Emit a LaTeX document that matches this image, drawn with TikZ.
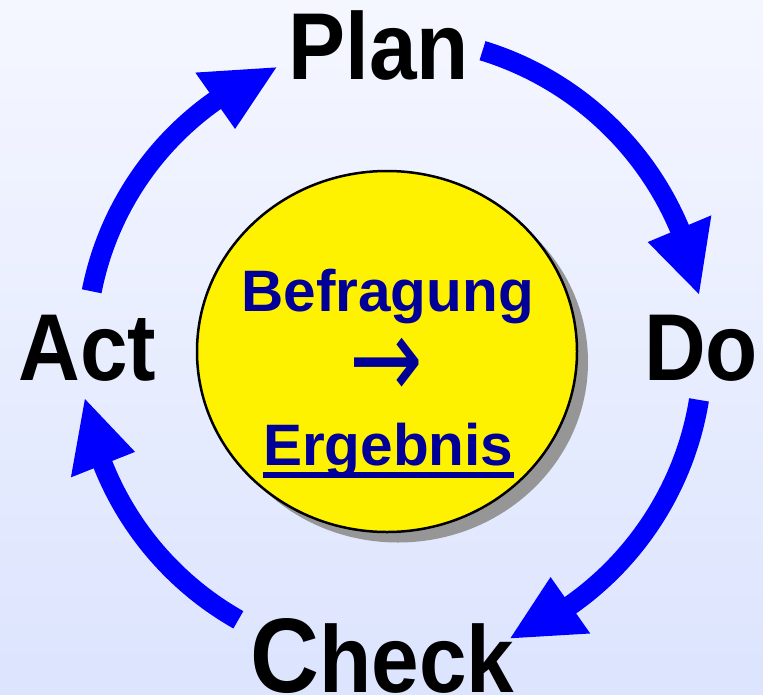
\documentclass[tikz,border=0pt]{standalone}
\usepackage{graphicx}
\usepackage{fontspec}
\setmainfont{Liberation Sans}
\newfontfamily\arrowfont{DejaVu Sans}
\usetikzlibrary{calc}
\definecolor{bgtop}{RGB}{245,247,255}
\definecolor{bgbot}{RGB}{220,228,254}
\definecolor{arrowblue}{RGB}{0,0,255}
\definecolor{navytext}{RGB}{0,0,153}
\definecolor{shadowgray}{RGB}{150,150,150}
\newcommand{\narrow}[1]{\scalebox{0.9}[1]{#1}}
\begin{document}
\begin{tikzpicture}[x=1pt,y=-1pt,
  lbl/.style={font=\fontsize{95}{95}\selectfont\bfseries, text=black, inner sep=0pt, anchor=base},
  ctr/.style={font=\fontsize{58.5}{58.5}\selectfont\bfseries, text=navytext, inner sep=0pt, anchor=base},
  shaft/.style={draw=arrowblue, line width=20pt},
  head/.style={fill=arrowblue}]
\shade[top color=bgtop, bottom color=bgbot] (0,0) rectangle (763,694);
\useasboundingbox (0,0) rectangle (763,694);
\coordinate (c) at (391,350);
% disk with shadow
\fill[shadowgray] (398,362) ellipse [x radius=190, y radius=180.5];
\filldraw[fill=yellow, draw=black, line width=2.5pt] (387,351.5) ellipse [x radius=190, y radius=180.5];
% centre text
\node[ctr] (befr) at (387.5,311.7) {Befragung};
\node[ctr, anchor=center, font=\fontsize{88}{88}\selectfont\arrowfont] (arr) at (386.7,368.5) {\scalebox{1}[1.3]{→}};
\node[ctr] (erg) at (388.3,465) {Ergebnis};
\draw[navytext, line width=6.5pt] ($(erg.base west)+(0,10)$) -- ($(erg.base east)+(0,10)$);
% labels
\node[lbl] (plan) at (378.5,79) {\narrow{Plan}};
\node[lbl] (do) at (701,380) {\narrow{Do}};
\node[lbl] (act) at (87.5,380) {\narrow{Act}};
\node[lbl] (check) at (382.5,692) {\narrow{{\fontsize{106}{106}\selectfont C}heck}};
% arrows
\draw[shaft] ($(c)+(-73:313)$) arc[start angle=-73, end angle=-20, radius=313];
\fill[head] ($(c)+(-22.8:278.5)$) -- ($(c)+(-22.8:347.5)$) -- ($(c)+(-10.3:313)$) -- cycle;
\draw[shaft] ($(c)+(9.2:312)$) arc[start angle=9.2, end angle=57.5, radius=312];
\fill[head] ($(c)+(54.9:277.5)$) -- ($(c)+(54.9:346.5)$) -- ($(c)+(67.5:312)$) -- cycle;
\draw[shaft] ($(c)+(119.5:310)$) arc[start angle=119.5, end angle=161, radius=310];
\fill[head] ($(c)+(158.3:275.5)$) -- ($(c)+(158.3:344.5)$) -- ($(c)+(170.9:310)$) -- cycle;
\draw[shaft] ($(c)+(191.1:305)$) arc[start angle=191.1, end angle=237.5, radius=305];
\fill[head] ($(c)+(234.8:270.5)$) -- ($(c)+(234.8:339.5)$) -- ($(c)+(247.9:305)$) -- cycle;
\end{tikzpicture}
\end{document}
